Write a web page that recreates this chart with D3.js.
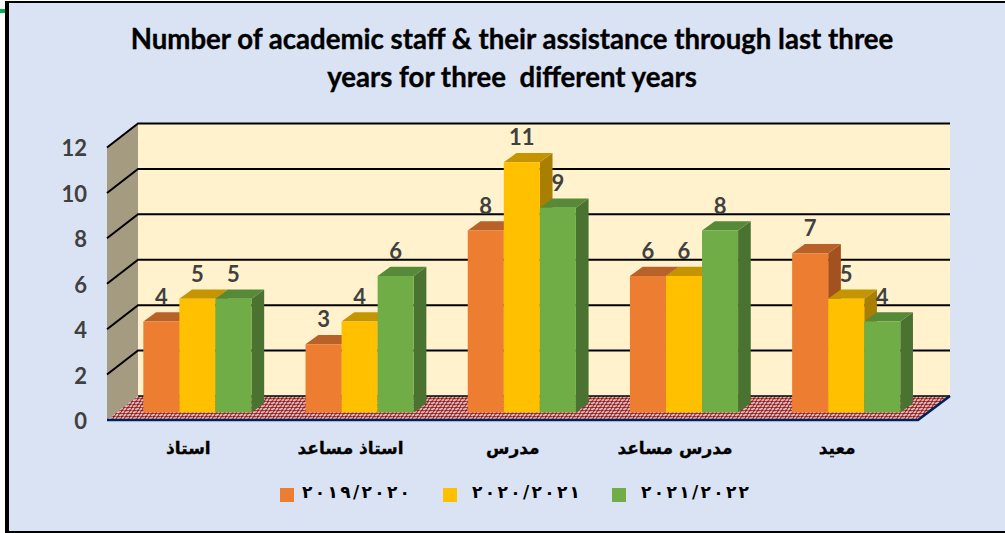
<!DOCTYPE html>
<html><head><meta charset="utf-8">
<script src="https://cdn.jsdelivr.net/npm/d3@7"></script>
<style>html,body{margin:0;padding:0;background:#fff;overflow:hidden}svg{display:block}</style>
</head><body><svg id="c" width="1005" height="533"></svg>
<script>
const categories=["استاذ","استاذ مساعد","مدرس","مدرس مساعد","معيد"];
const seriesNames=["٢٠١٩/٢٠٢٠","٢٠٢٠/٢٠٢١","٢٠٢١/٢٠٢٢"];
const values2019=[4,3,8,6,7];
const values2020=[5,4,11,6,5];
const values2021=[5,6,9,8,4];
const yTicks=[0,2,4,6,8,10,12];
const titleLines=["Number of academic staff & their assistance through last three","years for three  different years"];
const colors=[{f:"#ed7d31",t:"#b8622a",s:"#a3521f"},{f:"#ffc000",t:"#c49500",s:"#a87f00"},{f:"#70ad47",t:"#578a38",s:"#4a7230"}];
const series=[values2019,values2020,values2021];

const svg=d3.select("#c");
const latin="Lato, 'Open Sans', sans-serif";
const arab="'DejaVu Sans', sans-serif";
svg.append("rect").attr("width",1005).attr("height",533).attr("fill","#fff");
svg.append("rect").attr("x",5).attr("y",1).attr("width",1000).attr("height",532).attr("fill","#000");
svg.append("rect").attr("x",9).attr("y",3).attr("width",996).attr("height",528).attr("fill","#dae3f3");
svg.append("rect").attr("x",0).attr("y",9).attr("width",5).attr("height",4).attr("fill","#00b050");

titleLines.forEach((t,i)=>svg.append("text").attr("x",512).attr("y",49+i*38).attr("text-anchor","middle")
  .attr("font-family",latin).attr("font-weight",700).attr("font-size",27.6).attr("fill","#000")
  .attr("stroke","#000").attr("stroke-width",0.35).style("white-space","pre").text(t));

// depth of the 3D box and of the bars
const DX=31,DY=-24,bdx=12.7,bdy=-9.3;
const y=d3.scaleLinear().domain([0,12]).range([420,147.5]);
const yBar=d3.scaleLinear().domain([0,12]).range([412.5,139.5]);
const x0=d3.scaleBand().domain(categories).range([116.3,927.3]).paddingInner(1/3).paddingOuter(1/6);
const x1=d3.scaleBand().domain(d3.range(3)).range([0,x0.bandwidth()]);
const left=107,right=918;

const defs=svg.append("defs");
const pat=defs.append("pattern").attr("id","hatch").attr("patternUnits","userSpaceOnUse").attr("width",8).attr("height",6);
pat.append("rect").attr("width",8).attr("height",6).attr("fill","#a51515");
pat.append("path").attr("d","M0 1.5L2 .5L4 1.5L6 .5L8 1.5").attr("stroke","#d2cccc").attr("stroke-width",1.8).attr("stroke-dasharray","3 1").attr("fill","none");
pat.append("path").attr("d","M-2 4.5L0 3.5L2 4.5L4 3.5L6 4.5L8 3.5").attr("stroke","#d2cccc").attr("stroke-width",1.8).attr("stroke-dasharray","3 1").attr("fill","none");

// walls
svg.append("rect").attr("x",left+DX).attr("y",y(12)+DY).attr("width",right-left+1).attr("height",y(0)-y(12)).attr("fill","#fff2cc");
svg.append("path").attr("d",`M${left} ${y(12)}L${left+DX} ${y(12)+DY}V${y(0)+DY}L${left} ${y(0)}Z`).attr("fill","#a59b80");
svg.append("path").attr("d",`M${left} ${y(0)}H${right}L${right+DX+1} ${y(0)+DY}H${left+DX}Z`).attr("fill","url(#hatch)");

// gridlines
const grid=svg.append("g").attr("fill","none").attr("stroke","#000").attr("stroke-width",2);
grid.selectAll("path").data(yTicks.slice(1)).join("path")
  .attr("d",v=>`M${left} ${y(v)}L${left+DX} ${y(v)+DY}H${right+DX+1}`);
svg.append("path").attr("d",`M${left+DX} ${y(0)+DY}H${right+DX+1}`).attr("stroke","#000").attr("stroke-width",1.6);
svg.append("path").attr("d",`M${left} ${y(0)}H${right}L${right+DX+1} ${y(0)+DY}`).attr("fill","none").attr("stroke","#002060").attr("stroke-width",2.6);

// y axis labels
const axis=svg.append("g").attr("transform",`translate(87,1)`).call(d3.axisLeft(y).tickValues(yTicks).tickSize(0).tickPadding(0));
axis.select(".domain").remove();
axis.selectAll("text").attr("font-family",latin).attr("font-weight",700).attr("font-size",22).attr("fill","#404040").attr("dy","0.34em");

// bars
categories.forEach((c,ci)=>{
  const g=svg.append("g");
  series.forEach((vals,si)=>{
    const X=x0(c)+x1(si),W=x1.bandwidth(),T=yBar(vals[ci]),B=yBar(0),col=colors[si];
    g.append("path").attr("d",`M${X+W} ${T}L${X+W+bdx} ${T+bdy}V${B+bdy}L${X+W} ${B}Z`).attr("fill",col.s);
    g.append("path").attr("d",`M${X} ${T}L${X+bdx} ${T+bdy}H${X+W+bdx}L${X+W} ${T}Z`).attr("fill",col.t);
    g.append("rect").attr("x",X).attr("y",T).attr("width",W).attr("height",B-T).attr("fill",col.f);
  });
});
// value labels
categories.forEach((c,ci)=>series.forEach((vals,si)=>{
  svg.append("text").attr("x",x0(c)+x1(si)+x1.bandwidth()/2).attr("y",yBar(vals[ci])-17)
    .attr("text-anchor","middle").attr("font-family",latin).attr("font-weight",700).attr("font-size",22)
    .attr("fill","#404040").text(vals[ci]);
}));
// category labels
svg.append("g").selectAll("text").data(categories).join("text")
  .attr("x",c=>x0(c)+x0.bandwidth()/2-9).attr("y",454).attr("text-anchor","middle")
  .attr("font-family",arab).attr("font-weight",700).attr("font-size",17).attr("fill","#000")
  .attr("stroke","#000").attr("stroke-width",0.3).attr("direction","rtl").text(d=>d);
// legend
const lx=[280,443,612],tx=[302,472,641];
seriesNames.forEach((n,i)=>{
  svg.append("rect").attr("x",lx[i]).attr("y",488).attr("width",14).attr("height",14).attr("fill",colors[i].f);
  svg.append("text").attr("x",tx[i]).attr("y",498).attr("font-family",arab).attr("font-weight",700)
    .attr("font-size",17).attr("textLength",108).attr("lengthAdjust","spacing").attr("fill","#000").attr("direction","ltr").text(n);
});
</script></body></html>
